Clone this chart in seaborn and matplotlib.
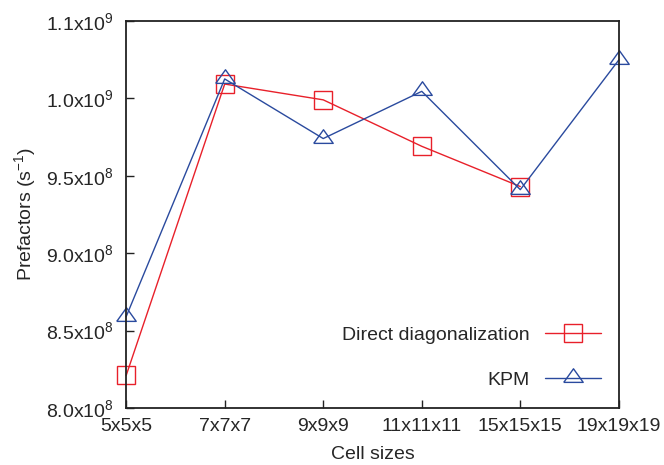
import seaborn as sns
import matplotlib.pyplot as plt
import pandas as pd

cells = ["5x5x5", "7x7x7", "9x9x9", "11x11x11", "15x15x15", "19x19x19"]
direct = [8.21e8, 1.0092e9, 9.99e8, 9.69e8, 9.43e8]
kpm = [8.59e8, 1.0125e9, 9.74e8, 1.0045e9, 9.41e8, 1.0248e9]

ytick_vals = [8.0e8, 8.5e8, 9.0e8, 9.5e8, 1.0e9, 1.05e9]
ytick_labels = ["8.0x10$^{8}$", "8.5x10$^{8}$", "9.0x10$^{8}$",
                "9.5x10$^{8}$", "1.0x10$^{9}$", "1.1x10$^{9}$"]

sns.set_style("ticks")
plt.rcParams["font.family"] = ["Liberation Sans", "DejaVu Sans"]
plt.rcParams["mathtext.default"] = "regular"

df_direct = pd.DataFrame({"cell": cells[:len(direct)], "value": direct})
df_kpm = pd.DataFrame({"cell": cells, "value": kpm})

# gnuplot-like open triangle (wider than tall)
tri = [(-1, -0.4), (1, -0.4), (0, 1.0), (-1, -0.4)]

fig = plt.figure(figsize=(6.64, 4.65), dpi=100)
ax = fig.add_axes([0.19, 0.1226, 0.742, 0.8325])

sns.lineplot(data=df_direct, x="cell", y="value", ax=ax, color="#e8202a",
             marker="s", markersize=13, markerfacecolor="none",
             markeredgecolor="#e8202a", markeredgewidth=1.0, linewidth=1.0,
             clip_on=False, label="Direct diagonalization")
sns.lineplot(data=df_kpm, x="cell", y="value", ax=ax, color="#2a4a9e",
             marker=tri, markersize=14, markerfacecolor="none",
             markeredgecolor="#2a4a9e", markeredgewidth=1.0, linewidth=1.0,
             clip_on=False, label="KPM")

ax.set_xlim(0, len(cells) - 1)
ax.set_ylim(8.0e8, 1.05e9)
ax.set_xticks(range(len(cells)))
ax.set_xticklabels(cells)
ax.set_yticks(ytick_vals)
ax.set_yticklabels(ytick_labels)
ax.tick_params(direction="in", length=6, width=1.0, labelsize=14, pad=9,
               color="#222222")
ax.tick_params(axis="x", pad=7)
for s in ax.spines.values():
    s.set_visible(True)
    s.set_linewidth(1.3)
    s.set_color("#222222")

ax.set_xlabel("Cell sizes", fontsize=14, labelpad=8)
ax.set_ylabel("Prefactors (s$^{-1}$)", fontsize=14, labelpad=6)

ax.legend(loc="lower right", frameon=False, markerfirst=False, fontsize=14,
          handlelength=2.9, handletextpad=0.8, labelspacing=1.4,
          borderaxespad=0, bbox_to_anchor=(0.98, 0.03))

fig.savefig("out.png", dpi=100)
